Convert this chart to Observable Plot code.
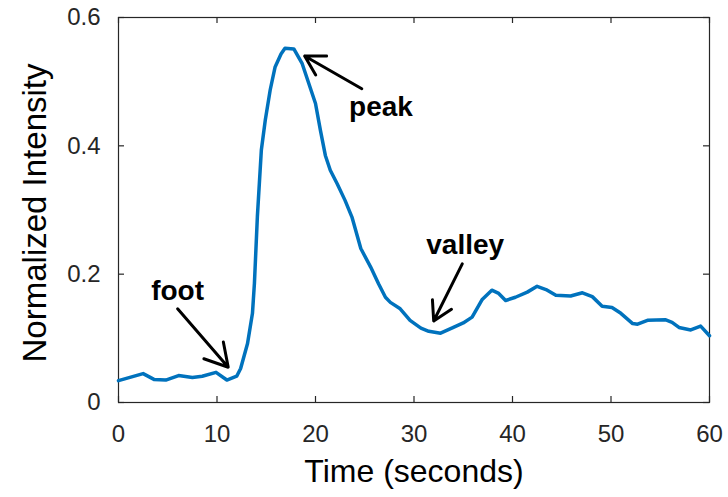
<!DOCTYPE html>
<html><head><meta charset="utf-8">
<script src="https://cdn.jsdelivr.net/npm/d3@7"></script>
<script src="https://cdn.jsdelivr.net/npm/@observablehq/plot@0.6"></script>
<style>body{margin:0;background:#fff}</style>
</head><body><div id="chart"></div>
<script>
const time = [0, 2.5, 3.6, 4.8, 6.1, 7.5, 8.5, 9.9, 11.0, 12.0, 12.4, 13.1, 13.6, 13.8, 14.1, 14.5, 14.9, 15.4, 15.9, 16.5, 16.9, 17.8, 18.65, 20.0, 20.5, 21.0, 21.5, 22.2, 23.0, 23.7, 24.6, 25.6, 26.4, 27.1, 27.6, 28.6, 29.6, 30.7, 31.5, 32.7, 34.0, 35.0, 35.9, 36.9, 37.9, 38.6, 39.3, 40.3, 41.5, 42.5, 43.4, 44.4, 45.9, 47.1, 48.1, 49.1, 50.1, 51.0, 52.2, 52.7, 53.7, 55.5, 56.2, 56.9, 58.1, 59.1, 60.0];
const intensity = [0.034, 0.045, 0.036, 0.035, 0.042, 0.039, 0.041, 0.047, 0.035, 0.041, 0.053, 0.092, 0.139, 0.186, 0.290, 0.393, 0.440, 0.487, 0.523, 0.543, 0.552, 0.551, 0.528, 0.466, 0.424, 0.385, 0.362, 0.341, 0.315, 0.289, 0.240, 0.211, 0.185, 0.164, 0.156, 0.146, 0.128, 0.116, 0.111, 0.108, 0.117, 0.124, 0.133, 0.160, 0.175, 0.170, 0.159, 0.164, 0.172, 0.181, 0.176, 0.167, 0.166, 0.171, 0.165, 0.150, 0.148, 0.139, 0.123, 0.122, 0.128, 0.129, 0.125, 0.117, 0.113, 0.119, 0.104];
const xTicks = [0, 10, 20, 30, 40, 50, 60];
const yTicks = [0, 0.2, 0.4, 0.6];
const xLabel = "Time (seconds)";
const yLabel = "Normalized Intensity";
const noteLabels = ["foot", "peak", "valley"];
const noteTextX = [6.0, 26.65, 35.2];
const noteTextY = [0.174, 0.461, 0.246];
const arrowFromX = [6.0, 24.7, 34.9];
const arrowFromY = [0.146, 0.489, 0.216];
const arrowToX = [11.14, 18.9, 32.0];
const arrowToY = [0.055, 0.540, 0.127];

const data = time.map((t, i) => ({t, v: intensity[i]}));
const notes = noteLabels.map((label, i) => ({
  label, tx: noteTextX[i], ty: noteTextY[i],
  x1: arrowFromX[i], y1: arrowFromY[i], x2: arrowToX[i], y2: arrowToY[i]
}));
const ink = "#262626";
const W = 728, H = 497, mL = 118, mR = 19, mT = 17, mB = 95, tickLen = 6;
const frameW = W - mL - mR, frameH = H - mT - mB;
const yTop = yTicks[yTicks.length - 1], yBot = yTicks[0];
const xLeft = xTicks[0], xRight = xTicks[xTicks.length - 1];
const chart = Plot.plot({
  width: W, height: H,
  marginLeft: mL, marginRight: mR, marginTop: mT, marginBottom: mB,
  style: {fontFamily: "'Liberation Sans', Arial, sans-serif", background: "#fff", color: ink},
  x: {domain: [xLeft, xRight]},
  y: {domain: [yBot, yTop]},
  marks: [
    Plot.ruleX(xTicks, {x: d => d, y1: yTop, y2: yBot, insetTop: frameH - tickLen, stroke: ink, strokeWidth: 1.2}),
    Plot.ruleX(xTicks, {x: d => d, y1: yTop, y2: yBot, insetBottom: frameH - tickLen, stroke: ink, strokeWidth: 1.2}),
    Plot.ruleY(yTicks, {y: d => d, x1: xLeft, x2: xRight, insetRight: frameW - tickLen, stroke: ink, strokeWidth: 1.2}),
    Plot.ruleY(yTicks, {y: d => d, x1: xLeft, x2: xRight, insetLeft: frameW - tickLen, stroke: ink, strokeWidth: 1.2}),
    Plot.frame({stroke: ink, strokeWidth: 1.2}),
    Plot.axisX(xTicks, {anchor: "bottom", tickSize: 0, tickPadding: 22, fontSize: 24, label: null, fill: ink, tickFormat: d => String(d)}),
    Plot.axisY(yTicks, {anchor: "left", tickSize: 0, tickPadding: 18, fontSize: 24, label: null, fill: ink, tickFormat: d => String(d)}),
    Plot.text([xLabel], {frameAnchor: "bottom", dy: 69, textAnchor: "middle", lineAnchor: "middle", text: d => d, fontSize: 32, fill: "#000"}),
    Plot.text([yLabel], {frameAnchor: "left", dx: -83, dy: 3, rotate: -90, textAnchor: "middle", lineAnchor: "middle", text: d => d, fontSize: 33, fill: "#000"}),
    Plot.line(data, {x: "t", y: "v", stroke: "#0072BD", strokeWidth: 3.5}),
    Plot.arrow(notes, {x1: "x1", y1: "y1", x2: "x2", y2: "y2", stroke: "#000", strokeWidth: 3, headLength: 15}),
    Plot.text(notes, {x: "tx", y: "ty", text: "label", fontSize: 28, fontWeight: "bold", fill: "#000"})
  ]
});
document.getElementById("chart").appendChild(chart);
</script>
</body></html>
